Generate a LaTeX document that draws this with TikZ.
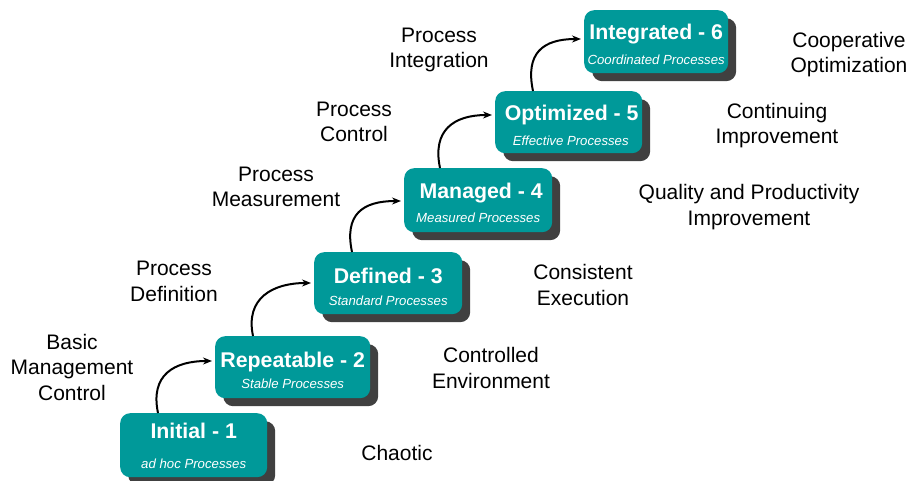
\documentclass[tikz,border=0pt]{standalone}
\usepackage{fontspec}
\setmainfont{Liberation Sans}
\usetikzlibrary{calc,shadows,arrows.meta}
\definecolor{stageteal}{HTML}{009999}
\definecolor{stageshadow}{HTML}{404040}
\begin{document}
\begin{tikzpicture}[x=1pt,y=-1pt,
  stagebox/.style={fill=stageteal, rounded corners=10pt, inner sep=0pt,
    minimum height=63pt, anchor=north west,
    drop shadow={shadow xshift=8pt, shadow yshift=-8pt, fill=stageshadow, opacity=1}},
  stagetitle/.style={text=white, font=\fontsize{21.3}{25}\selectfont\bfseries, anchor=base, inner sep=0pt},
  stagesub/.style={text=white, font=\fontsize{13.2}{16}\selectfont\itshape, anchor=base, inner sep=0pt},
  % labels are placed by the baseline of their last line
  lbl/.style={font=\fontsize{21}{25.5}\selectfont, align=center, anchor=base, inner sep=0pt},
  flow/.style={line width=2pt, -{Stealth[length=9pt,width=7pt]}}]
\useasboundingbox (0,0) rectangle (912,481);

% maturity levels
\node[stagebox, minimum width=147pt, minimum height=64pt] (b1) at (120,413) {};
\node[stagebox, minimum width=155pt, minimum height=62pt] (b2) at (215,336) {};
\node[stagebox, minimum width=148pt, minimum height=62pt] (b3) at (314,252) {};
\node[stagebox, minimum width=148pt, minimum height=64pt] (b4) at (404,168) {};
\node[stagebox, minimum width=147pt, minimum height=62pt] (b5) at (495,91) {};
\node[stagebox, minimum width=144pt, minimum height=63pt] (b6) at (584,10) {};

\node[stagetitle] (t1) at ($(b1.north)+(0,25)$) {Initial - 1};
\node[stagesub]   (s1) at ($(b1.north)+(0,55)$) {ad hoc Processes};
\node[stagetitle] (t2) at ($(b2.north)+(0,31)$) {Repeatable - 2};
\node[stagesub]   (s2) at ($(b2.north)+(0,52)$) {Stable Processes};
\node[stagetitle] (t3) at ($(b3.north)+(0,31)$) {Defined - 3};
\node[stagesub]   (s3) at ($(b3.north)+(0,53)$) {Standard Processes};
\node[stagetitle] (t4) at ($(b4.north)+(3,30)$) {Managed - 4};
\node[stagesub]   (s4) at ($(b4.north)+(0,54)$) {Measured Processes};
\node[stagetitle] (t5) at ($(b5.north)+(3,30)$) {Optimized - 5};
\node[stagesub]   (s5) at ($(b5.north)+(2,55)$) {Effective Processes};
\node[stagetitle] (t6) at ($(b6.north)+(0,30)$) {Integrated - 6};
\node[stagesub]   (s6) at ($(b6.north)+(0,55)$) {Coordinated Processes};

% transitions between levels
\draw[flow] ($(b1.north west)+(38,0)$) .. controls +(-8,-38) and +(-38,0) .. ($(b2.north west)+(-3,25)$);
\draw[flow] ($(b2.north west)+(38,0)$) .. controls +(-8,-38) and +(-38,0) .. ($(b3.north west)+(-3,31)$);
\draw[flow] ($(b3.north west)+(38,0)$) .. controls +(-8,-38) and +(-38,0) .. ($(b4.north west)+(-3,33)$);
\draw[flow] ($(b4.north west)+(36,0)$) .. controls +(-8,-38) and +(-38,0) .. ($(b5.north west)+(-3,24)$);
\draw[flow] ($(b5.north west)+(38,0)$) .. controls +(-8,-38) and +(-38,0) .. ($(b6.north west)+(-3,29)$);

% key process areas leading to each level
\node[lbl] (p1) at (72,400)  {Basic\\Management\\Control};
\node[lbl] (p2) at (174,301) {Process\\Definition};
\node[lbl] (p3) at (276,207) {Process\\Measurement};
\node[lbl] (p4) at (354,142) {Process\\Control};
\node[lbl] (p5) at (439,68)  {Process\\Integration};

% characteristics of each level
\node[lbl] (c1) at (397,460) {Chaotic};
\node[lbl] (c2) at (491,388) {Controlled\\Environment};
\node[lbl] (c3) at (583,305) {Consistent\\Execution};
\node[lbl] (c4) at (749,225) {Quality and Productivity\\Improvement};
\node[lbl] (c5) at (777,144) {Continuing\\Improvement};
\node[lbl] (c6) at (849,73)  {Cooperative\\Optimization};
\end{tikzpicture}
\end{document}
